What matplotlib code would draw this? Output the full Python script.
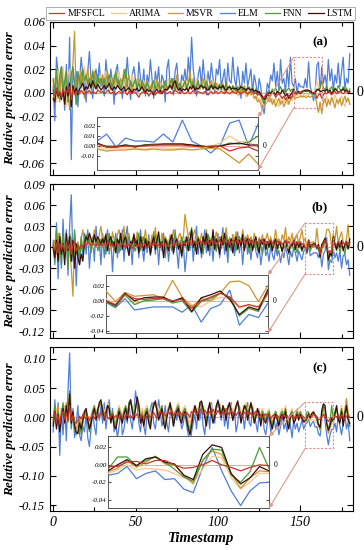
import numpy as np
import matplotlib
matplotlib.use('Agg')
import matplotlib.pyplot as plt
from matplotlib.patches import Rectangle, ConnectionPatch
from matplotlib.transforms import blended_transform_factory

plt.rcParams['font.family'] = ['Liberation Serif', 'DejaVu Serif']
plt.rcParams['mathtext.fontset'] = 'stix'

# relative prediction errors, in units of 1e-3, timestamps 0..180
MFSFCL_A = [2, -3, 4, -2, 1, -4, 3, -1, 2, 0,
            5, -6, 3, -2, 1, 0, -1, 2, 0, -2,
            1, 0, 2, -1, 1, 0, -1, 2, 1, 0,
            1, -1, 0, 2, 1, -1, 0, 1, -2, 0,
            1, 0, -1, 2, 0, -2, 1, 0, -1, 1,
            0, -2, -4, -1, 0, 1, -1, 0, -3, -1,
            1, 0, -2, 0, 1, -1, 0, 2, 0, -1,
            0, 1, -1, 0, 2, 1, 0, -1, 1, 0,
            -1, 0, 1, -1, 0, 2, 0, -1, 1, 0,
            0, -1, 1, 0, -2, 0, 1, -1, 0, 1,
            -1, 0, 1, 0, -1, 1, 0, -1, 0, 1,
            0, -1, 1, 0, -1, 0, 1, 0, -1, 0,
            1, 0, -1, 0, -2, -1, -3, -5, -4, -2,
            -1, -3, -2, 0, -1, -4, -2, -1, -3, -5,
            -3, -6, -4, -2, -5, -3, 2, -1, -1, 0,
            0, 0, 1, 1, 1, 1, 0, -1, 0, 0,
            -5, -2, -1, -5, -2, 0, -1, 1, 0, -2,
            0, 1, -1, 0, 1, 0, -1, 0, 1, 0,
            0]
ARIMA_A = [5, 12, -8, 18, 2, -5, 22, 8, -12, 15,
           20, -10, 5, 12, -5, 8, 18, 3, 10, 22,
           8, 15, 3, 10, 20, 5, 12, 2, 8, 15,
           5, 10, 18, 6, 2, 12, 8, 15, 4, 10,
           18, 6, 3, 12, 8, 5, 10, 2, 15, 6,
           3, 8, 12, 5, 2, 10, 6, 0, 8, 4,
           2, 6, 10, 3, 5, 8, 0, 4, 10, 6,
           12, 5, 8, 3, 6, 2, 10, 5, 3, 8,
           4, 10, 2, 6, 8, 3, 5, 12, 4, 2,
           6, 3, 8, 15, 5, 2, 6, 10, 3, 5,
           8, 2, 4, 6, 0, 3, 5, 1, -2, 3,
           0, 2, -3, 1, 4, -1, 2, -4, 0, 3,
           -2, 0, -4, -6, -3, -8, -5, -10, -7, -4,
           -6, -3, -8, -5, -10, -4, -7, -12, -6, -3,
           -8, -5, -10, -6, -3, -7, -1, -3, -2, -2,
           -2, -3, -2, -2, -3, -2, -1, -1, 0, 3,
           10, 4, 5, -2, -5, -9, -3, -7, -11, -4,
           -8, -2, -6, -10, -5, -3, -8, -12, -6, -4,
           -9]
MSVR_A = [10, -5, 15, 5, -8, 20, 3, -10, 12, 0,
          -15, 8, 25, 52, -10, 15, 5, 18, 10, -5,
          12, 20, 8, 15, 5, 18, 10, 3, 12, 8,
          15, 5, 10, 18, 8, 2, 12, 6, 15, 10,
          5, 12, 8, 20, 3, 10, 15, 6, 2, 8,
          10, 3, 12, 5, 8, 0, 6, 10, 3, 5,
          8, 2, 5, 12, 4, 0, 6, 3, 8, 2,
          5, 10, 3, 12, 6, 15, 4, 8, 2, 6,
          10, 3, 8, 18, 6, 12, 2, 5, 8, 3,
          6, 12, 4, 8, 2, 6, 10, 3, 5, 8,
          2, 6, 3, 8, 0, 5, 2, 6, 3, 0,
          4, 1, 5, -2, 3, 0, 6, 2, -3, 1,
          -2, 0, -5, -3, -8, -6, -10, -15, -12, -6,
          -4, -8, -5, -10, -6, -12, -8, -5, -10, -7,
          -12, -8, -5, -10, -6, -4, -3, -5, -4, -4,
          -3, -4, -3, -4, -4, -3, -4, -3, -2, -3,
          -10, -17, -8, -18, -8, -5, -12, -6, -10, -4,
          -8, -13, -6, -9, -5, -11, -7, -3, -8, -5,
          -10]
ELM_A = [5, -24, 30, 18, -5, 22, 10, -15, 24, -8,
         47, -57, 20, 5, 18, -12, 10, 30, 15, 5,
         -8, 18, 35, 10, -5, 12, 20, 8, 25, 5,
         15, -3, 28, 12, 0, 20, 8, -10, 18, 24,
         5, 10, -5, 18, 12, 30, 8, -6, 15, 22,
         10, 0, 26, 12, 5, 20, -3, 15, 8, 28,
         12, -5, 18, 8, 22, 0, 15, 10, -8, 20,
         28, 5, 12, -2, 18, 25, 8, 0, 15, 10,
         20, 5, 30, 12, 47, 20, 8, -3, 15, 22,
         5, 28, 10, -2, 18, 8, 25, 12, 0, 20,
         15, 28, 5, 12, 20, 0, 25, 10, 8, 30,
         12, 5, 22, 10, -5, 18, 8, 25, 5, 12,
         20, 0, 15, 8, -3, 12, 5, -10, -18, -5,
         8, 3, 15, 10, 25, 5, 18, 2, 28, 8,
         12, 0, 20, 5, 30, 8, 5, 12, -1, 8,
         5, 5, 4, 12, 4, 26, 5, 0, -7, 1,
         23, 26, 0, 22, 8, 15, 5, 28, 10, 20,
         2, 15, 8, 25, 5, 18, 30, 3, 12, 8,
         33]
FNN_A = [12, 0, 20, -5, 15, 22, -3, 10, 18, -8,
         5, 15, 22, 8, -10, 18, 12, 5, 20, 10,
         15, 8, 12, 3, 18, 10, 5, 15, 8, 12,
         6, 12, 3, 10, 15, 8, 5, 12, 18, 6,
         10, 3, 8, 15, 20, 6, 2, 10, 5, 8,
         12, 4, 8, 2, 10, 6, 3, 8, 5, 1,
         6, 10, 3, 5, 8, 2, 6, 4, 10, 5,
         3, 8, 12, 6, 2, 10, 5, 8, 3, 6,
         10, 4, 7, 12, 5, 9, 3, 6, 10, 4,
         8, 3, 6, 10, 5, 2, 7, 4, 8, 3,
         5, 7, 2, 6, 4, 8, 3, 5, 2, 6,
         4, 1, 5, 3, 6, 2, 4, 0, 3, 5,
         2, 4, 0, 3, 1, -2, 0, -5, -10, -4,
         0, 2, -1, 3, 1, 4, 0, 2, 5, 1,
         3, 0, 2, 4, 1, 3, 2, 0, 0, 1,
         0, 1, 2, 2, 2, 2, 1, 0, -1, 0,
         3, 2, 4, 10, 4, 2, 6, 1, 3, 5,
         0, 4, 2, 6, 3, 1, 5, 2, 4, 0,
         3]
LSTM_A = [-5, -8, 3, -3, 0, -6, 2, -10, 5, -3,
          8, -12, 6, 0, 4, -2, 3, 5, 8, 2,
          5, 3, 8, 4, 10, 6, 3, 7, 5, 2,
          4, 6, 3, 5, 8, 4, 2, 5, 3, 6,
          4, 2, 3, 5, 1, 3, 4, 2, 0, 3,
          2, 4, 1, 3, 5, 2, 0, 3, 1, 2,
          0, -2, 1, 3, 0, 2, -1, 1, 3, 2,
          4, 6, 3, 8, 10, 5, 2, 4, 1, 3,
          2, 4, 1, 5, 3, 6, 2, 4, 3, 5,
          6, 4, 5, 3, 2, 4, 6, 3, 5, 4,
          3, 5, 4, 6, 3, 2, 4, 5, 3, 4,
          3, 4, 2, 3, 5, 4, 3, 2, 4, 3,
          2, 3, 1, 2, 0, 1, -2, -3, -6, -4,
          -2, 0, -1, 1, 0, -2, 1, 0, -1, 2,
          0, -3, -1, -5, -2, 0, 3, -1, -1, 1,
          -1, 1, 1, 2, 2, 2, 1, 0, -1, 0,
          2, 3, 1, 1, 2, 1, 3, 0, 2, -1,
          1, 3, 2, 0, 1, 2, 3, 1, 2, 0,
          1]

MFSFCL_B = [2, -5, 6, -8, 5, -3, 4, -6, 8, -2,
            5, -10, 3, 8, -5, 2, -3, 4, 0, 6,
            3, 8, 5, 2, 6, 4, 1, 7, 3, 5,
            2, 6, 0, 4, 7, 2, 5, -1, 3, 6,
            4, 1, 7, 3, 0, 5, 2, 6, -2, 3,
            5, 1, 4, -1, 3, 6, 2, 0, 4, 2,
            5, 3, 7, 1, 4, 0, 6, 2, 5, 3,
            1, 4, 6, 2, 5, 8, 3, 6, 2, 7,
            4, 8, 5, 10, 3, 6, 9, 4, 7, 10,
            5, 8, 3, 6, 9, 4, 10, 6, 8, 3,
            7, 10, 5, 8, 12, 6, 9, 4, 7, 10,
            6, 8, 11, 5, 9, 7, 10, 4, 8, 12,
            6, 9, 5, 10, 7, 4, 8, 11, 6, 9,
            5, 8, 10, 6, 3, 7, 9, 5, 8, 4,
            7, 10, 5, 8, 3, 6, 9, 4, 7, 5,
            8, 4, 6, 0, -5, 9, 3, 2, 3, 3,
            0, 2, -10, 0, 5, 10, 5, -8, -5, -8,
            10, 6, 3, 8, 5, 2, 7, 4, 9, 3,
            6]
ARIMA_B = [3, -8, 10, -5, 8, -12, 6, -3, 12, -6,
           8, 15, -10, 5, -8, 3, -5, 8, 2, 6,
           4, 8, 2, 6, -2, 5, 9, 1, 6, 3,
           7, 2, 5, 10, 0, 4, 8, -3, 6, 2,
           5, 9, 1, 4, 7, -2, 3, 8, 2, 5,
           0, 6, 3, 8, -2, 4, 7, 1, 5, 2,
           6, -1, 4, 8, 2, 5, 0, 7, 3, 6,
           2, 8, 4, -2, 6, 3, 9, 1, 5, 7,
           15, 8, 4, 10, 2, 6, 12, 3, 7, 5,
           2, 8, 5, 10, 3, 7, 0, 6, 9, 4,
           7, 3, 10, 5, 8, 2, 6, 11, 4, 7,
           3, 9, 5, 2, 8, 6, 10, 3, 7, 5,
           8, 4, 2, 7, 5, 10, 3, 6, 1, 8,
           4, 7, 2, 9, 5, 3, 6, 10, 4, 2,
           7, 5, 1, 8, 4, 6, 2, 9, 3, 5,
           7, 2, 4, 3, -5, 7, -3, 0, 2, 3,
           0, 4, -5, -8, 0, 5, 2, -10, -5, -10,
           8, 4, 0, 6, 2, 8, -2, 5, 3, 7,
           1]
MSVR_B = [-5, 10, -10, 20, -15, 5, 15, -8, 12, -20,
          5, -30, -70, 20, -10, 8, -5, 12, 25, 5,
          15, 8, 20, -5, 10, 25, 12, 3, 18, 30,
          10, 5, 20, 8, 15, -3, 22, 10, 5, 18,
          25, 8, 12, 30, 5, 15, 20, 3, 10, 18,
          6, 22, 12, -2, 15, 8, 25, 5, 12, 3,
          18, 10, 28, 6, 14, 2, 20, 8, 15, 10,
          5, 18, 8, 25, 12, 3, 15, 20, 8, 14,
          47, 30, 15, 22, 8, 18, 25, 10, 15, 5,
          20, 8, 12, 25, 6, 15, 3, 18, 10, 22,
          8, 15, 5, 20, 12, 28, 6, 14, 2, 18,
          10, 22, 5, 15, 8, 25, 12, 3, 18, 8,
          15, 5, 20, 10, 2, 14, 8, 18, 5, 12,
          20, 6, 15, 3, 10, 25, 8, 12, 4, 18,
          10, 28, 5, 15, 8, 20, 3, 12, 18, 6,
          14, 25, 8, 13, -1, 11, 6, 7, 8, 3,
          27, 5, -8, 3, 0, 10, 25, 26, 20, -1,
          20, 10, 30, 5, 15, 22, 8, 3, 12, 32,
          0]
ELM_B = [10, -25, 35, -45, 20, -30, 40, -15, 25, -40,
         30, 75, -20, 15, -55, 5, -25, 10, -15, 20,
         -10, 25, -30, 5, 15, -20, 30, -5, 10, -25,
         20, -15, 8, 25, -10, 15, -35, 5, 20, -15,
         10, -5, 25, -20, 15, 30, -10, 5, -25, 20,
         -5, 15, -15, 25, 0, -20, 12, -8, 18, -12,
         5, 22, -10, 15, -25, 8, -5, 20, -15, 10,
         -20, 5, 15, -10, 25, -5, -30, 10, -15, 5,
         -35, -10, 15, -5, 20, -20, 8, 30, -10, 12,
         -15, 5, 25, -8, 18, -12, 10, -20, 15, -5,
         20, -15, 8, 28, -10, 5, -22, 12, -5, 18,
         -12, 6, 22, -8, 10, -25, 5, 15, -10, 8,
         -18, 4, 12, -6, -15, 3, -25, -8, 10, -12,
         -5, -20, 2, -10, -18, 0, -12, -5, -22, -8,
         -15, 2, -10, -25, -6, -14, 0, -8, -20, -5,
         -12, -18, -6, -2, -9, 3, -12, -10, -8, -8,
         -8, -15, -5, -28, -10, -5, 14, -32, -18, -22,
         -3, -15, -8, -20, -5, -30, -12, -10, -25, -18,
         -40]
FNN_B = [5, -20, 25, -10, 15, -25, 20, -5, 10, -30,
         20, 10, -15, 25, -10, 5, -20, 15, -5, 10,
         18, 5, 12, -8, 8, 15, 3, 10, -5, 12,
         6, 15, -10, 8, 20, 2, 10, -5, 15, 5,
         -8, 12, 3, 18, -3, 8, 15, 0, 10, -6,
         12, 2, 20, -5, 8, 15, -2, 10, 3, -8,
         10, 5, 18, -3, 12, 6, 0, 15, -10, 8,
         3, 12, -5, 10, 20, 2, 8, -8, 15, 5,
         10, -3, 12, 6, 28, 5, -5, 10, 15, 0,
         8, -10, 12, 5, 18, -3, 10, 2, 15, -6,
         8, 12, -2, 10, 5, 18, -8, 6, 12, 0,
         10, -5, 8, 15, 2, 10, -3, 12, 6, -8,
         5, 10, 0, 8, -5, 12, 3, -10, 6, 2,
         -5, 8, 2, -3, 10, 0, -8, 5, 2, -6,
         3, -2, 8, -10, 0, 5, -5, 2, -8, 3,
         0, -6, 2, -1, -8, 8, -5, 0, 1, 3,
         -3, 0, -15, -1, 3, 10, 5, -20, -10, -14,
         12, 2, -5, 6, -8, 3, 0, -10, 5, -3,
         8]
LSTM_B = [0, -15, 10, -20, 15, -10, 5, -25, 20, -5,
          15, -20, 10, -30, 5, -15, -25, -10, -20, 5,
          15, 10, 20, 12, 5, 18, 8, 15, 10, 3,
          12, 5, 18, -5, 10, 15, 2, 8, -8, 12,
          5, 20, -3, 10, 15, 0, -12, 8, 5, 18,
          2, 10, -8, 15, 5, -5, 12, 0, 8, -10,
          5, 15, -3, 10, 22, 0, 8, -15, 12, 5,
          -5, 10, 18, -8, 6, 12, -3, 5, -12, 8,
          2, 15, -5, 10, 25, 0, 8, -10, 12, 3,
          -8, 15, 5, 20, -5, 10, 2, 25, -3, 12,
          5, -10, 15, 3, 20, -5, 10, 0, 12, -8,
          6, 15, -3, 10, 2, 18, -5, 8, 12, 0,
          10, -5, 6, 15, 2, -8, 10, 4, 12, -3,
          8, 0, 10, -5, 5, 12, -2, 8, 3, -6,
          6, 10, 0, -8, 5, 2, 12, -3, 8, 0,
          6, -4, 3, 0, -6, 10, 0, 4, 5, 5,
          -1, 4, -14, 4, 8, 13, 2, -18, -8, -12,
          15, 5, -3, 8, 0, 10, -5, 3, 8, -2,
          12]

MFSFCL_C = [-5, 8, -10, 3, -12, 5, 10, -3, 8, -8,
            20, -5, 3, -8, -10, -5, 2, -3, 5, 0,
            -3, 2, -5, 0, 4, -2, 3, 5, 0, 8,
            3, -2, 5, 0, -3, 2, 6, -1, 3, 0,
            -2, 4, 1, -3, 2, 5, 0, 3, -2, 4,
            2, 6, 0, -3, 4, 1, -2, 3, 5, 0,
            4, 8, 3, -2, 6, 10, 5, 8, 2, 6,
            10, 5, 12, 3, 8, 6, 2, 9, 4, 7,
            3, 8, 5, 0, 10, 6, 12, 4, 8, 15,
            10, 5, 12, 8, 3, 10, 6, 14, 8, 5,
            12, 7, 3, 10, 5, 15, 8, 4, 12, 6,
            10, 3, 8, 12, 5, 2, 9, 6, 11, 4,
            8, 2, 6, 10, 4, 0, 5, -2, 3, 6,
            0, 4, -3, 2, 5, -1, 3, 0, -4, 2,
            5, 0, 3, -2, 4, 1, -3, 2, 0, 4,
            -1, 3, 0, -2, -2, 3, 4, 1, 5, 5,
            0, -4, -3, 0, 5, 0, -3, -7, -3, 0,
            -1, 3, 0, 5, -2, 4, 1, -3, 2, 5,
            0]
ARIMA_C = [5, -10, 15, 0, -15, 10, 5, 20, -5, 10,
           30, 5, 10, -5, -15, -10, 0, -15, 5, 10,
           15, 0, -10, 5, 15, 20, 10, 15, 25, 20,
           20, 10, 15, 25, 15, 5, 10, 0, -5, 10,
           20, 10, 5, 15, 20, 10, 20, 25, 20, 10,
           20, 25, 25, 10, 15, 5, 15, 20, 10, 0,
           15, 25, 25, 20, 10, 15, 20, 5, 0, 10,
           20, 25, 15, 5, 10, 20, 25, 10, 5, 15,
           20, 10, 0, -10, 0, 15, 20, 15, 10, 25,
           25, 20, 10, 0, 15, 25, 20, 5, 10, 20,
           25, 25, 10, 20, 15, 10, 20, 25, 20, 5,
           15, 20, 25, 20, 5, 15, 20, 25, 10, 20,
           25, 20, 5, 10, 15, 15, 0, 15, 5, 0,
           10, 15, 0, -10, 5, 10, 5, -5, 10, 15,
           5, 20, 0, -10, 10, 15, 0, 5, 15, 5,
           10, 5, 0, -10, -6, 0, -6, -4, -5, -6,
           -10, -15, -20, -5, 10, 8, -15, -28, -20, -10,
           -10, 10, 20, 5, 0, 20, 0, 15, 30, 10,
           -10]
MSVR_C = [0, 15, -10, 20, -20, 10, 15, 0, 25, 5,
          40, -5, 10, -10, -20, -15, 0, -25, 0, 10,
          10, -5, -20, 0, 10, 15, 5, 10, 20, 25,
          15, 5, 10, 20, 15, 0, 10, -5, -10, 5,
          15, 5, 0, 10, 15, 5, 20, 25, 15, 5,
          15, 30, 20, 0, 10, -5, 10, 15, 0, -10,
          10, 20, 25, 15, 5, 10, 15, 0, -10, 5,
          15, 20, 10, -5, 5, 15, 20, 5, 0, 10,
          15, 5, -10, -20, -5, 10, 15, 10, 5, 20,
          25, 15, 5, -5, 10, 20, 15, 0, 5, 15,
          25, 20, 5, 15, 10, 5, 15, 20, 15, 0,
          10, 15, 25, 15, 0, 10, 15, 20, 5, 15,
          20, 15, 0, 5, 10, 10, -5, 10, 5, -5,
          5, 10, -5, -10, 0, 10, 0, -5, 5, 10,
          0, 15, -5, -10, 5, 10, -5, 0, 10, 0,
          8, 0, -5, -8, -4, 5, -3, 3, 10, 1,
          0, -12, -22, 5, 16, 12, -10, -27, -15, -7,
          -8, 10, 15, 0, -5, 15, -5, 10, 32, 5,
          -15]
ELM_C = [-25, 30, -10, 25, -65, 15, -30, 20, -40, 45,
         110, -20, 15, -35, -10, 20, -30, -40, -15, -25,
         5, -35, -50, -20, 10, -15, -30, 15, -5, 20,
         -10, 25, -20, 5, 30, -5, 15, -25, -10, -35,
         -15, 10, -30, -20, 5, -10, 25, -5, -20, 10,
         45, 20, -10, -25, 5, -15, -30, 10, -5, 15,
         25, -10, -20, 5, 30, 10, -15, -5, 20, -10,
         -25, 5, 15, -15, 10, -5, 20, 0, -20, -10,
         8, -15, -30, -55, -25, -10, 5, -20, 15, -5,
         20, -15, -30, 5, 10, -20, 25, 0, -10, 15,
         30, 10, -5, 20, -15, 5, -20, 10, 25, -5,
         15, -25, -10, 20, -5, 10, -20, 5, 25, -10,
         -15, 20, 5, -10, -25, 10, -5, 15, -20, -30,
         -10, 5, -25, -15, 0, -20, -8, -30, -15, 5,
         -20, -10, -25, 0, -15, -35, -5, -20, -10, -25,
         -15, -5, -20, -12, -10, -2, -16, -10, -7, -17,
         -16, -28, -32, -3, 20, -7, -30, -47, -30, -21,
         -20, -10, -25, 5, -15, -30, -10, 5, -20, -8,
         -40]
FNN_C = [-10, 20, -15, 10, -20, 5, 25, -5, 15, 0,
         45, -15, 8, -20, -30, -25, -5, -30, -10, 5,
         10, -10, -25, -5, 10, 20, 0, 15, 20, 25,
         15, 0, 10, 18, 20, -5, 10, -10, -15, 0,
         15, 5, -5, 10, 20, 0, 25, 30, 15, 0,
         20, 25, 15, -5, 5, -10, 10, 15, -5, -15,
         10, 25, 20, 15, 0, 10, 20, -5, -15, 5,
         15, 20, 10, -10, 5, 15, 20, 0, -5, 10,
         15, 0, -15, -25, -10, 10, 15, 5, 0, 20,
         25, 10, 5, -10, 15, 20, 10, -5, 5, 15,
         25, 20, 5, 15, 15, 0, 20, 20, 15, 0,
         10, 15, 25, 15, -5, 10, 15, 20, 0, 15,
         20, 15, -5, 5, 10, 10, -10, 10, 0, -5,
         5, 10, -5, -15, 0, 10, 0, -10, 5, 10,
         0, 15, -5, -15, 5, 10, -5, 0, 10, 0,
         10, 0, -5, -5, 9, 9, -1, 5, 9, 3,
         -5, -14, -19, 5, 18, 17, -12, -20, -8, 20,
         -4, 10, 15, 0, -5, 15, -10, 10, 15, 0,
         -15]
LSTM_C = [-15, 10, -20, 5, -25, 0, 15, -10, 20, -5,
          40, -10, 10, -15, -25, -28, -10, -20, -5, 10,
          15, -5, -20, -10, 5, 15, -5, 10, 25, 30,
          10, -5, 5, 20, 15, -10, 5, -15, -20, -5,
          10, 0, -10, 5, 15, -5, 20, 30, 10, -5,
          15, 35, 20, -10, 0, -15, 5, 10, -10, -20,
          5, 20, 28, 10, -5, 5, 15, -10, -20, 0,
          10, 25, 5, -15, 0, 10, 15, -5, -10, 5,
          10, -5, -20, -30, -15, 5, 20, 10, -5, 25,
          28, 15, 0, -15, 10, 25, 5, -10, 0, 20,
          28, 15, 0, 20, 10, -5, 15, 25, 10, -5,
          5, 20, 28, 10, -10, 5, 20, 15, -5, 10,
          25, 10, -10, 0, 15, 5, -15, 5, -5, -10,
          0, 5, -10, -20, -5, 5, -5, -15, 0, 5,
          -5, 10, -10, -20, 0, 5, -10, -5, 5, -5,
          5, -3, -8, -7, 0, 6, -1, 7, 9, 3,
          1, -12, -17, 12, 23, 20, -10, -22, -15, -2,
          -7, 5, 20, -5, -10, 10, -15, 5, 20, -5,
          -10]

MODELS = ['MFSFCL', 'ARIMA', 'MSVR', 'ELM', 'FNN', 'LSTM']
PANEL_DATA = [
    [MFSFCL_A, ARIMA_A, MSVR_A, ELM_A, FNN_A, LSTM_A],
    [MFSFCL_B, ARIMA_B, MSVR_B, ELM_B, FNN_B, LSTM_B],
    [MFSFCL_C, ARIMA_C, MSVR_C, ELM_C, FNN_C, LSTM_C],
]
PANEL_TAGS = ['(a)', '(b)', '(c)']
Y_TICKS = [[-0.06, -0.04, -0.02, 0.00, 0.02, 0.04, 0.06],
           [-0.12, -0.09, -0.06, -0.03, 0.00, 0.03, 0.06, 0.09],
           [-0.15, -0.10, -0.05, 0.00, 0.05, 0.10]]
INSET_TICKS = [[-0.01, 0.00, 0.01, 0.02],
               [-0.04, -0.02, 0.00, 0.02],
               [-0.04, -0.02, 0.00, 0.02]]

for group in PANEL_DATA:
    for s in group:
        assert len(s) == 181, len(s)

COLORS = ['#c0392b', '#f6c78e', '#c9962c', '#4f7fd6', '#4e9a3c', '#3a0c0c']
ZORDER = [7, 3, 4, 2, 5, 6]

ylims = [(-0.07, 0.06), (-0.13, 0.09), (-0.16, 0.12)]
inset_ylims = [(-0.024, 0.029), (-0.042, 0.034), (-0.050, 0.033)]
rect_ylims = [(-0.013, 0.030), (-0.038, 0.035), (-0.053, 0.026)]
inset_win = [(146, 163), (153, 170), (153, 170)]
# axes boxes in figure fractions
ax_boxes = [(0.137, 0.682, 0.833, 0.278),
            (0.137, 0.385, 0.833, 0.280),
            (0.137, 0.071, 0.833, 0.298)]
inset_boxes = [(0.267, 0.691, 0.442, 0.096),
               (0.291, 0.395, 0.445, 0.105),
               (0.297, 0.076, 0.442, 0.131)]
tag_y = [0.87, 0.85, 0.87]

fig = plt.figure(figsize=(3.64, 5.5), dpi=100)
x = np.arange(181)

handles = []
for p in range(3):
    ax = fig.add_axes(ax_boxes[p])
    ax.axhline(0, color='#f4a3a3', lw=0.8, zorder=1)
    for k, s in enumerate(PANEL_DATA[p]):
        ln, = ax.plot(x, np.array(s) * 1e-3, color=COLORS[k], lw=0.9,
                      zorder=ZORDER[k], label=MODELS[k])
        if p == 0:
            handles.append(ln)
    ax.set_xlim(-2, 182)
    ax.set_ylim(*ylims[p])
    ax.set_xticks([0, 50, 100, 150])
    ax.set_xticks([25, 75, 125, 175], minor=True)
    ax.set_yticks(Y_TICKS[p])
    ax.set_yticklabels(['%.2f' % v for v in Y_TICKS[p]], fontstyle='italic', fontsize=9)
    ax.tick_params(which='both', direction='in', top=True, right=True)
    ax.tick_params(which='major', length=4, width=0.8)
    ax.tick_params(which='minor', length=3, width=0.8)
    if p < 2:
        ax.set_xticklabels([])
    else:
        ax.set_xticklabels(['0', '50', '100', '150'], fontstyle='italic', fontsize=10)
        ax.set_xlabel('Timestamp', fontweight='bold', fontstyle='italic', fontsize=10.5, labelpad=2)
    ax.set_ylabel('Relative prediction error', fontweight='bold', fontstyle='italic',
                  fontsize=9.5, labelpad=2)
    ax.text(0.89, tag_y[p], PANEL_TAGS[p], transform=ax.transAxes, fontweight='bold',
            fontsize=9.5, ha='center', va='center')
    tr = blended_transform_factory(ax.transAxes, ax.transData)
    ax.text(1.012, 0, '0', transform=tr, fontsize=10, va='center', ha='left')

    # inset zoom
    x0, x1 = inset_win[p]
    y0, y1 = inset_ylims[p]
    ins = fig.add_axes(inset_boxes[p])
    ins.axhline(0, color='#f4a3a3', lw=0.7, zorder=1)
    for k, s in enumerate(PANEL_DATA[p]):
        ins.plot(x[x0:x1 + 1], np.array(s[x0:x1 + 1]) * 1e-3, color=COLORS[k], lw=0.9,
                 zorder=ZORDER[k])
    ins.set_xlim(x0, x1)
    ins.set_ylim(y0, y1)
    ins.set_xticks([])
    ins.set_yticks(INSET_TICKS[p])
    ins.set_yticklabels(['%.2f' % v for v in INSET_TICKS[p]], fontstyle='italic', fontsize=5)
    ins.tick_params(axis='y', direction='in', length=2, width=0.5, pad=1, right=True)
    for sp in ins.spines.values():
        sp.set_linewidth(0.7)
        sp.set_color('#555555')
    tri = blended_transform_factory(ins.transAxes, ins.transData)
    ins.text(1.03, 0, '0', transform=tri, fontsize=5.5, va='center', ha='left')

    r0, r1 = rect_ylims[p]
    ax.add_patch(Rectangle((x0, r0), x1 - x0, r1 - r0, fill=False, ls=(0, (2, 1.5)),
                           ec='#e08a8a', lw=0.8, zorder=8))
    for ya, yb in [(r1, 1), (r0, 0)]:
        con = ConnectionPatch(xyA=(x0, ya), coordsA=ax.transData,
                              xyB=(1, yb), coordsB=ins.transAxes,
                              arrowstyle='-|>', mutation_scale=6, color='#d99a8a', lw=0.8)
        fig.add_artist(con)

leg = fig.legend(handles, MODELS, loc='upper center', bbox_to_anchor=(0.552, 0.997), ncol=6,
                 fontsize=7, handlelength=1.6, handletextpad=0.3, columnspacing=0.6,
                 frameon=True, fancybox=False, borderpad=0.25, edgecolor='#888888')
leg.get_frame().set_linewidth(0.6)

fig.savefig('out.png', dpi=100)
